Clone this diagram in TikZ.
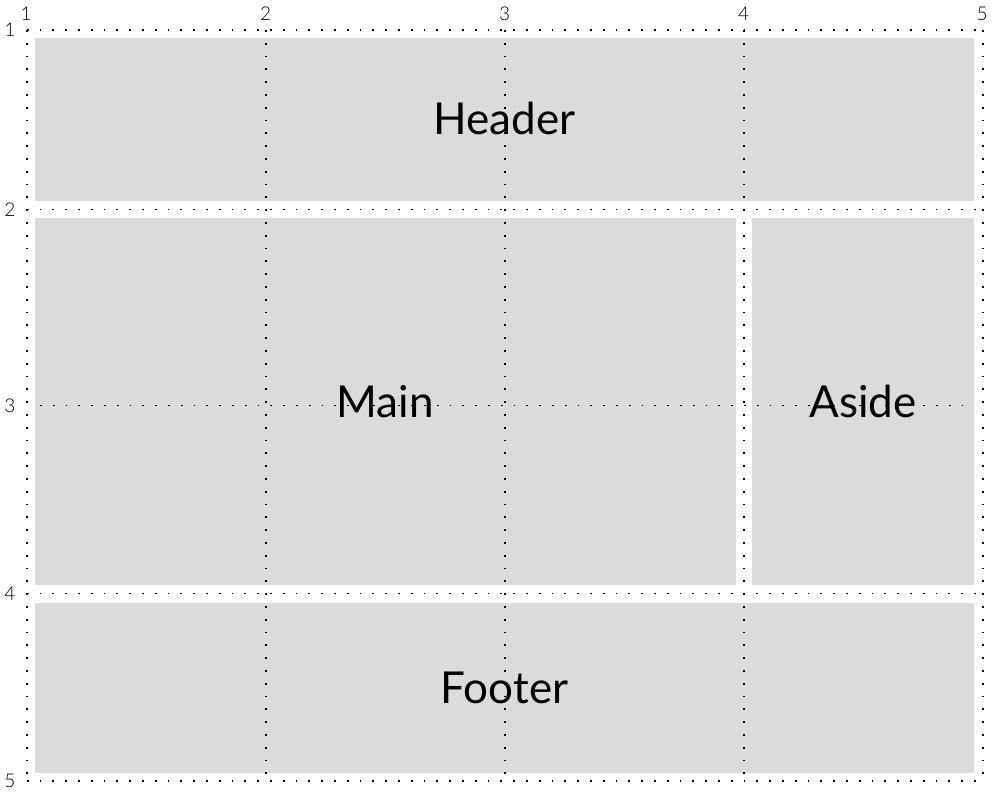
\documentclass[tikz,border=0pt]{standalone}
\usepackage{fontspec}
\setmainfont{Lato}
\newfontfamily\numfont{Lato}[UprightFont=* Light]
\begin{document}
\begin{tikzpicture}[x=1pt,y=-1pt,
  area/.style={fill=cellgray,draw=none},
  arealabel/.style={anchor=base,font=\fontsize{44}{50}\selectfont,text=black,inner sep=0pt},
  numlabel/.style={anchor=base,font=\numfont\fontsize{19}{22}\selectfont,text=black,inner sep=0pt},
  gridline/.style={line width=1.8pt,dash pattern=on 1.8pt off 11pt,black}]
\definecolor{cellgray}{HTML}{DBDBDB}
\useasboundingbox (0,0) rectangle (1001,794);
\fill[white] (0,0) rectangle (1001,794);
% areas
\path[area] (35,38.5) rectangle (974,201);
\path[area] (35,218) rectangle (735.5,585);
\path[area] (752,218) rectangle (974,585);
\path[area] (35,602.5) rectangle (974,773);
\node[arealabel] (lheader) at (504.5,135) {Header};
\node[arealabel] (lmain) at (385.2,417) {Main};
\node[arealabel] (laside) at (863,417) {Aside};
\node[arealabel] (lfooter) at (504.5,703) {Footer};
% grid coordinates
\coordinate (v1t) at (26.7,30); \coordinate (v1b) at (26.7,781);
\coordinate (v2t) at (265.7,30); \coordinate (v2b) at (265.7,781);
\coordinate (v3t) at (504.7,30); \coordinate (v3b) at (504.7,781);
\coordinate (v4t) at (743.7,30); \coordinate (v4b) at (743.7,781);
\coordinate (v5t) at (982.7,30); \coordinate (v5b) at (982.7,781);
\coordinate (h1l) at (26.7,30); \coordinate (h1r) at (983,30);
\coordinate (h2l) at (26.7,209.5); \coordinate (h2r) at (983,209.5);
\coordinate (h3l) at (40,405.5); \coordinate (h3r) at (966,405.5);
\coordinate (h4l) at (26.7,593.5); \coordinate (h4r) at (983,593.5);
\coordinate (h5l) at (26.7,780.7); \coordinate (h5r) at (983,780.7);
\foreach \i in {1,...,5} {
  \draw[gridline] (v\i t) -- (v\i b);
}
\foreach \i in {1,2,4,5} {
  \draw[gridline] (h\i l) -- (h\i r);
}
\draw[gridline] (h3l) -- (h3r);
% numbers
\node[numlabel] (t1) at (26.2,20.5) {1};
\node[numlabel] (t2) at (265.7,20.5) {2};
\node[numlabel] (t3) at (504.7,20.5) {3};
\node[numlabel] (t4) at (743.7,20.5) {4};
\node[numlabel] (t5) at (982.2,20.5) {5};
\node[numlabel,anchor=base east] (l1) at (15.5,37) {1};
\node[numlabel,anchor=base east] (l2) at (15.5,216.5) {2};
\node[numlabel,anchor=base east] (l3) at (15.5,412.5) {3};
\node[numlabel,anchor=base east] (l4) at (15.5,600.5) {4};
\node[numlabel,anchor=base east] (l5) at (15.5,787.7) {5};
\end{tikzpicture}
\end{document}
